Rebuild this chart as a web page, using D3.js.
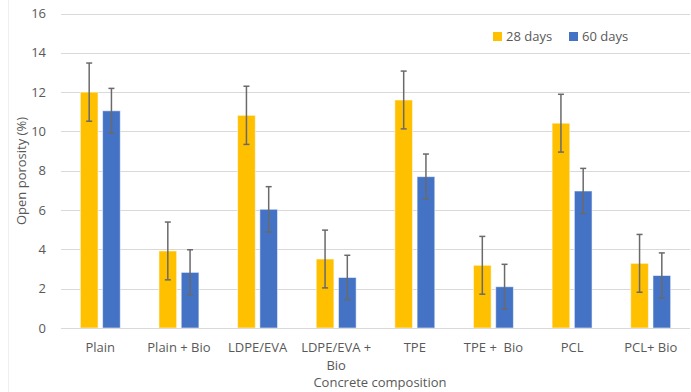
<!DOCTYPE html>
<html>
<head>
<meta charset="utf-8">
<script src="https://cdn.jsdelivr.net/npm/d3@7"></script>
<style>
  html, body { margin: 0; padding: 0; background: #fff; }
  svg { display: block; font-family: "Open Sans", "Noto Sans", sans-serif; }
</style>
</head>
<body>
<svg id="chart" width="691" height="392"></svg>
<script>
// Concrete compositions (x categories); multi-line labels split on "\n"
const categories = ["Plain", "Plain + Bio", "LDPE/EVA", "LDPE/EVA +\nBio", "TPE", "TPE +  Bio", "PCL", "PCL+ Bio"];
const seriesNames = ["28 days", "60 days"];
// Open porosity (%) per composition
const days28 = [12.0, 3.92, 10.82, 3.51, 11.6, 3.19, 10.42, 3.29];
const days60 = [11.05, 2.83, 6.04, 2.57, 7.70, 2.10, 6.97, 2.67];
// Standard deviations shown as error bars
const err28 = [1.48, 1.47, 1.48, 1.47, 1.47, 1.47, 1.47, 1.47];
const err60 = [1.14, 1.15, 1.15, 1.13, 1.15, 1.14, 1.15, 1.15];
const yTicks = [0, 2, 4, 6, 8, 10, 12, 14, 16];
const colors = ["#FFC000", "#4472C4"];

const svg = d3.select("#chart");
const margin = { left: 61, right: 0, top: 13.5, bottom: 64 };
const width = 691, height = 392;
const plotBottom = 328, plotTop = 13.5, plotLeft = 61, plotRight = 690;

const x = d3.scaleBand().domain(categories).range([plotLeft, plotRight]).paddingInner(0).paddingOuter(0);
const y = d3.scaleLinear().domain([0, 16]).range([plotBottom, plotTop]);
const bw = x.bandwidth();
const barW = bw * 0.225;
const barGap = bw * 0.058;
const xs = d3.scaleOrdinal().domain(seriesNames).range([-barGap / 2 - barW, barGap / 2]);

// faint chart-area edge on the left
svg.append("line").attr("x1", 8.5).attr("x2", 8.5).attr("y1", 0).attr("y2", height)
  .attr("stroke", "#efefef").attr("stroke-width", 1);

// gridlines
svg.append("g").selectAll("line").data(yTicks).join("line")
  .attr("x1", plotLeft).attr("x2", plotRight)
  .attr("y1", d => Math.round(y(d)) + 0.5).attr("y2", d => Math.round(y(d)) + 0.5)
  .attr("stroke", "#d9d9d9").attr("stroke-width", 1);

// y tick labels
const yAxis = d3.axisLeft(y).tickValues(yTicks).tickSize(0).tickPadding(0);
const gy = svg.append("g").attr("transform", `translate(46,0)`).call(yAxis);
gy.select(".domain").remove();
gy.selectAll("text").attr("fill", "#595959").attr("font-size", 13)
  .attr("font-family", "'Open Sans', sans-serif");

// bars
const rows = categories.map((c, i) => ({
  cat: c,
  vals: [
    { s: seriesNames[0], v: days28[i], e: err28[i], col: colors[0] },
    { s: seriesNames[1], v: days60[i], e: err60[i], col: colors[1] }
  ]
}));

const groups = svg.append("g").selectAll("g").data(rows).join("g")
  .attr("transform", d => `translate(${x(d.cat) + bw / 2},0)`);

groups.selectAll("rect").data(d => d.vals).join("rect")
  .attr("x", d => xs(d.s))
  .attr("width", barW)
  .attr("y", d => y(d.v))
  .attr("height", d => y(0) - y(d.v))
  .attr("fill", d => d.col)
  .attr("stroke", "#ffffff").attr("stroke-opacity", 0.55).attr("stroke-width", 1);

// error bars
const eb = groups.selectAll("g.err").data(d => d.vals).join("g").attr("class", "err")
  .attr("transform", d => `translate(${xs(d.s) + barW / 2},0)`);
eb.append("line").attr("x1", 0).attr("x2", 0)
  .attr("y1", d => y(d.v + d.e)).attr("y2", d => y(d.v - d.e))
  .attr("stroke", "#6a6a6a").attr("stroke-width", 1.5);
eb.selectAll("line.cap").data(d => [d.v + d.e, d.v - d.e]).join("line").attr("class", "cap")
  .attr("x1", -3).attr("x2", 3).attr("y1", d => y(d)).attr("y2", d => y(d))
  .attr("stroke", "#6a6a6a").attr("stroke-width", 1.5);

// x axis baseline
svg.append("line").attr("x1", plotLeft).attr("x2", plotRight)
  .attr("y1", plotBottom + 0.5).attr("y2", plotBottom + 0.5)
  .attr("stroke", "#d9d9d9");

// category labels
const xl = svg.append("g").selectAll("text").data(categories).join("text")
  .attr("x", d => x(d) + bw / 2)
  .attr("y", 352)
  .attr("text-anchor", "middle")
  .attr("fill", "#595959").attr("font-size", 13);
xl.selectAll("tspan").data(d => d.split("\n")).join("tspan")
  .attr("x", function () { return d3.select(this.parentNode).attr("x"); })
  .attr("dy", (d, i) => i === 0 ? 0 : 18)
  .attr("xml:space", "preserve")
  .style("white-space", "pre")
  .text(d => d);

// axis titles
svg.append("text").attr("x", 380).attr("y", 387).attr("text-anchor", "middle")
  .attr("fill", "#595959").attr("font-size", 13).text("Concrete composition");
svg.append("text").attr("transform", "translate(26,171) rotate(-90)").attr("text-anchor", "middle")
  .attr("fill", "#595959").attr("font-size", 13).text("Open porosity (%)");

// legend
const leg = svg.append("g").selectAll("g").data(seriesNames).join("g")
  .attr("transform", (d, i) => `translate(${[493, 569][i]},32)`);
leg.append("rect").attr("width", 9).attr("height", 9).attr("fill", (d, i) => colors[i]);
leg.append("text").attr("x", 13).attr("y", 9).attr("fill", "#595959").attr("font-size", 13).text(d => d);
</script>
</body>
</html>
